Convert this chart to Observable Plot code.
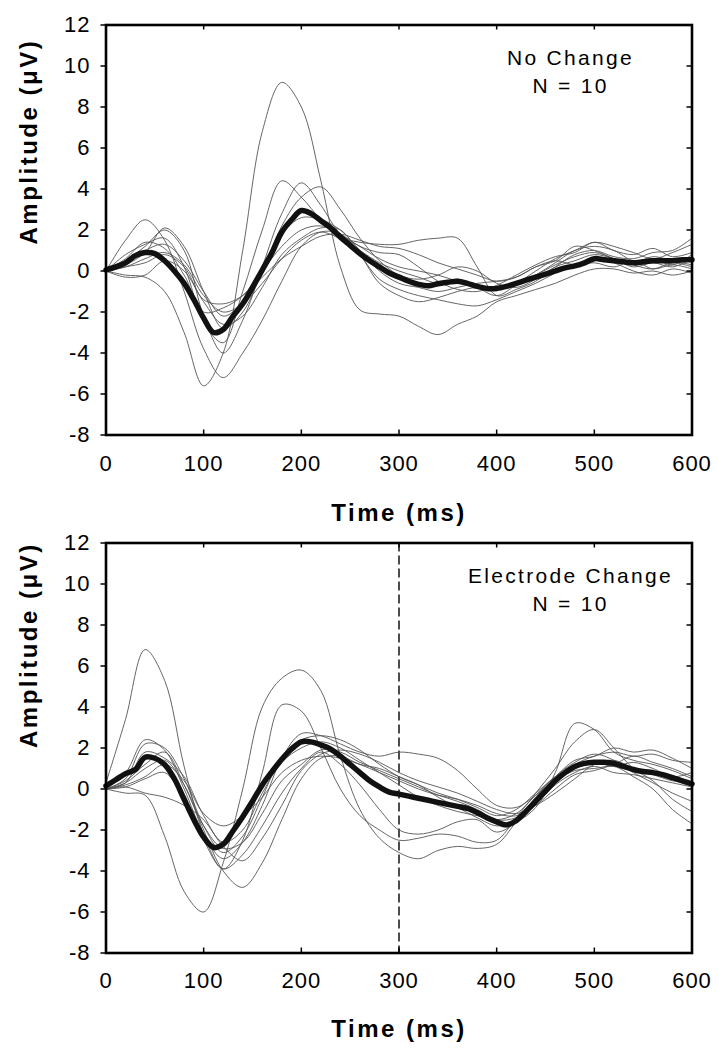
<!DOCTYPE html>
<html><head><meta charset="utf-8">
<script src="https://cdn.jsdelivr.net/npm/d3@7"></script>
<script src="https://cdn.jsdelivr.net/npm/@observablehq/plot@0.6"></script>
<style>
html,body{margin:0;padding:0;background:#fff;}
#chart{width:719px;height:1050px;overflow:hidden;background:#fff;}
svg{display:block;}
</style></head><body><div id="chart"></div>
<script>
// ---------- data ----------
const times20 = [0,20,40,60,80,100,120,140,160,180,200,220,240,260,280,300,320,340,360,380,400,420,440,460,480,500,520,540,560,580,600];
const times10 = [0,10,20,30,40,50,60,70,80,90,100,110,120,130,140,150,160,170,180,190,200,210,220,230,240,250,260,270,280,290,300,310,320,330,340,350,360,370,380,390,400,410,420,430,440,450,460,470,480,490,500,510,520,530,540,550,560,570,580,590,600];
const xTicks = [0,100,200,300,400,500,600];
const yTicks = [-8,-6,-4,-2,0,2,4,6,8,10,12];

// Panel 1: No Change – individual subjects (µV at times20)
const nc1 = [0,-0.2,-0.3,-1.0,-3.0,-5.6,-4.0,1.0,6.8,9.2,8.0,4.4,0.2,-1.9,-2.1,-2.2,-2.7,-3.1,-2.6,-2.2,-1.5,-1.2,-0.9,-0.6,-0.2,0.1,0.1,-0.1,0.0,-0.2,0.0];
const nc2 = [0,1.5,2.5,1.5,-1.0,-3.8,-5.2,-4.0,-2.4,-0.5,1.2,1.9,1.8,0.8,-0.6,-1.2,-1.5,-1.3,-1.0,-0.8,-0.9,-0.6,-0.2,0.3,0.7,0.9,0.6,0.2,0.4,0.2,0.6];
const nc3 = [0,0.8,1.3,1.6,0.2,-2.5,-3.5,-1.0,2.0,4.4,3.6,2.5,1.6,1.0,0.4,0.0,-0.3,-0.6,-0.4,-0.8,-1.2,-0.7,-0.2,0.4,1.0,1.2,1.0,0.5,0.6,0.3,0.8];
const nc4 = [0,0.5,1.2,2.0,1.0,-2.2,-4.0,-2.4,0.2,2.8,4.3,3.2,1.8,1.2,0.6,0.2,0.0,-0.2,-0.5,-0.7,-0.9,-0.6,0.0,0.6,1.0,1.4,1.2,0.9,0.6,0.9,1.3];
const nc5 = [0,0.3,0.9,2.1,1.2,-1.0,-2.8,-2.0,0.0,2.2,3.6,4.1,3.0,1.6,0.5,-0.2,-0.4,-0.2,0.2,0.0,-0.6,-0.8,-0.4,0.2,0.5,0.8,0.6,0.3,0.1,0.4,0.2];
const nc6 = [0,0.2,0.6,0.9,0.3,-1.2,-2.0,-1.6,-0.6,0.6,1.5,1.9,1.6,1.4,1.3,1.3,1.5,1.6,1.6,0.2,-1.2,-0.9,-0.5,0.2,0.8,1.0,0.7,0.6,0.9,1.0,1.6];
const nc7 = [0,0.4,1.0,1.3,0.5,-1.0,-2.2,-1.5,0.2,1.8,2.6,2.5,2.0,1.0,0.0,-0.6,-0.8,-1.0,-0.8,-0.6,-0.5,-0.3,0.2,0.5,0.3,0.4,0.2,0.5,0.1,0.3,0.1];
const nc8 = [0,-0.3,-0.2,0.5,0.0,-1.5,-2.6,-2.2,-0.8,0.8,1.6,2.1,2.0,0.8,-0.4,-0.9,-1.2,-1.4,-1.6,-1.7,-1.4,-1.0,-0.6,-0.1,0.3,0.6,0.4,0.0,-0.2,0.1,-0.1];
const nc9 = [0,0.6,1.4,1.1,-0.2,-2.0,-1.8,-1.2,0.0,1.2,2.0,2.2,1.8,1.2,0.9,0.8,0.2,-0.5,-0.9,-1.0,-0.7,-0.2,0.3,0.7,0.9,1.4,1.0,0.8,1.1,0.7,0.9];
const nc10 = [0,0.2,0.4,0.8,0.2,-1.4,-1.6,-1.2,-0.3,0.6,1.2,1.7,1.8,1.5,1.2,1.1,0.8,0.4,0.1,-0.2,-0.5,-0.3,0.2,0.5,1.2,1.0,0.6,0.4,0.7,0.5,0.3];
// Panel 1 grand average (µV at times10)
const ncMean = [0.05,0.2,0.4,0.75,0.9,0.85,0.5,0.0,-0.6,-1.4,-2.3,-3.0,-2.85,-2.2,-1.6,-0.8,0.05,0.9,1.9,2.5,2.95,2.8,2.45,2.1,1.65,1.25,0.85,0.5,0.2,-0.1,-0.3,-0.5,-0.65,-0.72,-0.62,-0.55,-0.5,-0.6,-0.75,-0.85,-0.85,-0.75,-0.6,-0.45,-0.3,-0.15,0.0,0.15,0.25,0.4,0.6,0.55,0.5,0.45,0.4,0.45,0.5,0.5,0.5,0.55,0.55];

// Panel 2: Electrode Change – individual subjects (µV at times20)
const ec1 = [0.3,3.4,6.8,5.3,1.1,-2.2,-3.9,-2.5,0.8,4.1,3.8,2.0,0.0,-1.3,-2.0,-2.5,-2.4,-2.2,-2.3,-2.6,-2.5,-1.4,-0.2,1.0,2.3,2.9,2.0,1.0,0.4,-0.5,-1.1];
const ec2 = [0,-0.2,-0.3,-2.3,-5.0,-6.0,-3.6,0.0,4.0,5.4,5.8,4.8,1.6,-1.0,-2.4,-3.1,-3.4,-3.0,-2.8,-2.9,-2.7,-1.6,-0.4,0.6,1.3,1.7,1.4,0.8,0.3,-0.2,-0.6];
const ec3 = [0,0.4,1.2,1.8,0.2,-2.0,-4.0,-4.8,-3.6,-1.5,0.5,1.5,1.6,1.2,1.0,0.6,0.2,-0.4,-0.9,-1.4,-1.8,-1.6,-0.9,0.8,3.2,2.9,1.8,1.4,1.2,0.9,0.5];
const ec4 = [0.2,0.8,2.4,1.9,0.0,-2.2,-3.4,-2.6,-0.8,1.5,2.7,2.6,2.2,1.8,1.6,1.8,1.7,1.5,0.9,0.0,-0.8,-0.9,-0.3,0.5,1.2,1.6,1.8,1.6,1.7,1.4,1.3];
const ec5 = [0,0.5,2.2,2.0,0.5,-1.8,-3.1,-2.3,-0.4,1.6,2.4,2.6,2.4,1.9,1.2,0.6,0.2,-0.2,-0.5,-0.9,-1.3,-1.0,-0.2,0.6,1.4,1.6,2.0,1.8,1.9,1.5,1.0];
const ec6 = [0,0.3,1.8,1.5,0.6,-1.3,-2.6,-2.0,-0.2,1.3,2.0,2.3,2.0,1.4,0.8,0.2,-0.4,-0.8,-1.1,-1.3,-1.5,-1.2,-0.3,0.6,1.0,1.3,1.1,1.3,1.0,0.6,0.8];
const ec7 = [0,0.1,0.5,0.8,-0.5,-2.5,-3.9,-3.2,-1.8,-0.2,1.0,1.8,1.2,0.2,-1.0,-2.0,-2.2,-2.0,-1.6,-1.5,-2.1,-1.6,-0.4,0.4,0.9,1.0,1.1,0.6,0.0,-1.0,-1.7];
const ec8 = [0,0.2,0.6,1.2,0.4,-1.2,-1.8,-1.3,-0.4,0.8,1.4,1.6,1.5,1.2,0.8,0.4,0.0,-0.3,-0.5,-0.8,-1.2,-1.3,-0.7,0.2,0.8,1.1,0.8,0.7,0.5,0.3,0.1];
const ec9 = [0,0.1,-0.2,-0.4,-0.8,-1.5,-2.8,-3.5,-2.4,-0.8,0.9,1.7,1.9,1.7,1.3,0.8,0.4,0.1,-0.2,-0.6,-1.0,-1.2,-0.8,-0.2,0.5,1.2,1.4,1.0,0.7,0.4,0.3];
const ec10 = [0,0.3,1.0,1.4,0.2,-1.8,-2.9,-2.6,-1.2,0.4,1.2,1.9,1.8,1.3,0.9,0.5,0.1,-0.3,-0.6,-1.0,-1.5,-1.4,-0.8,0.0,0.7,0.9,1.2,1.6,1.3,1.0,0.6];
// Panel 2 grand average (µV at times10)
const ecMean = [0.15,0.45,0.75,0.95,1.55,1.5,1.2,0.5,-0.5,-1.5,-2.35,-2.85,-2.7,-2.05,-1.35,-0.6,0.2,0.85,1.45,1.95,2.3,2.3,2.15,1.95,1.6,1.2,0.8,0.4,0.1,-0.15,-0.25,-0.35,-0.45,-0.55,-0.65,-0.75,-0.85,-0.95,-1.15,-1.4,-1.6,-1.75,-1.55,-1.1,-0.6,-0.1,0.4,0.8,1.1,1.25,1.3,1.3,1.25,1.1,0.95,0.85,0.8,0.7,0.55,0.4,0.25];

const ecMarkers = [300];
const ncMarkers = [];
const ncLabel = "No Change\nN = 10";
const ecLabel = "Electrode Change\nN = 10";
const yTitle = "Amplitude (\u03BCV)";
const xTitle = "Time (ms)";

// ---------- drawing ----------
const FONT = "'Liberation Sans', Arial, Helvetica, sans-serif";

function panel({traces, mean, markers, label, height, marginTop, marginBottom, yTitleDy, xTitleDy, tickPad}) {
  const W = 719, ml = 105.5, mr = 27.5, mt = marginTop;
  const plotH = height - mt - marginBottom;
  const plotW = W - ml - mr;
  const rows = traces.flatMap((arr, i) => arr.map((v, j) => ({t: times20[j], v, id: i})));
  const meanRows = mean.map((v, j) => ({t: times10[j], v}));
  const innerX = xTicks.slice(1, -1);
  const innerY = yTicks.slice(1, -1);
  const svg = Plot.plot({
    width: W, height, marginTop: mt, marginBottom, marginLeft: ml, marginRight: mr,
    style: {fontFamily: FONT, fontSize: "22px", color: "#000", background: "#fff", overflow: "visible"},
    x: {domain: [0, 600]},
    y: {domain: [-8, 12]},
    marks: [
      Plot.ruleX(markers, {x: d => d, stroke: "#000", strokeWidth: 1.4, strokeDasharray: "9,4"}),
      Plot.line(rows, {x: "t", y: "v", z: "id", stroke: "#555", strokeWidth: 0.9, curve: "catmull-rom"}),
      Plot.line(meanRows, {x: "t", y: "v", stroke: "#111", strokeWidth: 5.5, curve: "catmull-rom", strokeLinejoin: "round", strokeLinecap: "round"}),
      Plot.tickX(innerX, {x: d => d, insetTop: plotH - 5, stroke: "#000", strokeWidth: 1.5}),
      Plot.tickX(innerX, {x: d => d, insetBottom: plotH - 5, stroke: "#000", strokeWidth: 1.5}),
      Plot.tickY(innerY, {y: d => d, insetLeft: plotW - 5, stroke: "#000", strokeWidth: 1.5}),
      Plot.axisY({ticks: yTicks, tickSize: 5, tickPadding: 10.5, tickFormat: d => String(d), label: null, fontSize: 22, strokeWidth: 1.5}),
      Plot.axisX({ticks: xTicks, tickSize: 0, tickPadding: tickPad, tickFormat: d => String(d), label: null, fontSize: 22}),
      Plot.frame({stroke: "#000", strokeWidth: 2.6}),
      Plot.text([label], {text: d => d, frameAnchor: "top", dx: 171.5, dy: 45, lineAnchor: "middle", lineHeight: 1.35, fontSize: 21, fill: "#000"}),
      Plot.text([yTitle], {text: d => d, frameAnchor: "left", dx: -77, dy: yTitleDy, rotate: -90, fontSize: 24, fontWeight: "bold", fill: "#000"}),
      Plot.text([xTitle], {text: d => d, frameAnchor: "bottom", dy: xTitleDy, lineAnchor: "middle", fontSize: 24, fontWeight: "bold", fill: "#000"})
    ]
  });
  d3.select(svg).selectAll("text").each(function() {
    const s = this.textContent;
    if (s === yTitle || s === xTitle) d3.select(this).attr("letter-spacing", "2.5");
    else if (s.startsWith("No Change") || s.startsWith("Electrode")) d3.select(this).attr("letter-spacing", "2.3");
    else d3.select(this).attr("letter-spacing", "1");
  });
  return svg;
}

const chart = document.getElementById("chart");
chart.appendChild(panel({
  traces: [nc1, nc2, nc3, nc4, nc5, nc6, nc7, nc8, nc9, nc10],
  mean: ncMean, markers: ncMarkers, label: ncLabel,
  height: 530, marginTop: 24.5, marginBottom: 95.5, yTitleDy: 14.5, xTitleDy: 78, tickPad: 20.5
}));
chart.appendChild(panel({
  traces: [ec1, ec2, ec3, ec4, ec5, ec6, ec7, ec8, ec9, ec10],
  mean: ecMean, markers: ecMarkers, label: ecLabel,
  height: 520, marginTop: 12.5, marginBottom: 97.5, yTitleDy: 0, xTitleDy: 76, tickPad: 19.5
}));
</script></body></html>
